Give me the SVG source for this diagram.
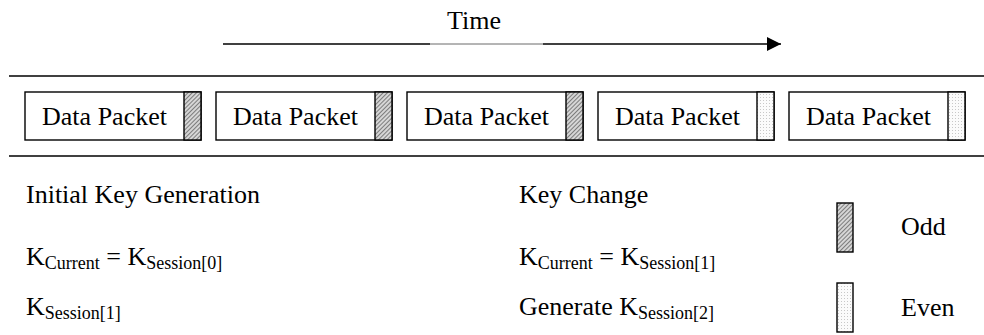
<svg xmlns="http://www.w3.org/2000/svg" width="984" height="335" viewBox="0 0 984 335" font-family="'Liberation Serif', 'DejaVu Serif', serif" font-size="26">
  <style>
    text { font-family: "Liberation Serif", "DejaVu Serif", serif; font-size: 26px; fill: #000; }
    .sub { font-size: 18px; }
    .rule { stroke: #000; stroke-width: 1.6; fill: none; }
    .box { fill: #fff; stroke: #000; stroke-width: 1.4; }
    .odd { fill: url(#hatch); stroke: #000; stroke-width: 1.4; }
    .even { fill: url(#dots); stroke: #000; stroke-width: 1.4; }
    .pkt { text-anchor: middle; }
  </style>
  <defs>
    <pattern id="hatch" patternUnits="userSpaceOnUse" width="3" height="3" patternTransform="rotate(45)">
      <rect width="3" height="3" fill="#d6d6d6"/>
      <line x1="0" y1="0" x2="0" y2="3" stroke="#555" stroke-width="1.4"/>
    </pattern>
    <pattern id="dots" patternUnits="userSpaceOnUse" width="3" height="3">
      <rect width="3" height="3" fill="#fbfbfb"/>
      <rect x="1" y="1" width="1" height="1" fill="#c8c8c8"/>
    </pattern>
    <marker id="arrow" markerWidth="14" markerHeight="14" refX="14" refY="7" orient="auto" markerUnits="userSpaceOnUse">
      <path d="M0,0 L14,7 L0,14 Z" fill="#000"/>
    </marker>
  </defs>

  <!-- time axis -->
  <g id="time-axis">
    <text x="474" y="29" text-anchor="middle">Time</text>
  </g>
  <g id="connectors">
    <line x1="223" y1="44" x2="430" y2="44" class="rule"/>
    <line x1="430" y1="44" x2="543" y2="44" stroke="#444" stroke-width="0.8"/>
    <line x1="543" y1="44" x2="781" y2="44" class="rule" marker-end="url(#arrow)"/>
  </g>

  <!-- channel boundaries -->
  <line x1="9" y1="76" x2="984" y2="76" class="rule"/>
  <line x1="9" y1="156" x2="984" y2="156" class="rule"/>

  <!-- packets: three odd-key, two even-key -->
  <g id="packet1">
    <rect x="25" y="92" width="176" height="48" class="box"/>
    <rect x="184" y="92" width="17" height="48" class="odd"/>
    <text x="104.5" y="125" class="pkt">Data Packet</text>
  </g>
  <g id="packet2">
    <rect x="216" y="92" width="176" height="48" class="box"/>
    <rect x="375" y="92" width="17" height="48" class="odd"/>
    <text x="295.5" y="125" class="pkt">Data Packet</text>
  </g>
  <g id="packet3">
    <rect x="407" y="92" width="176" height="48" class="box"/>
    <rect x="566" y="92" width="17" height="48" class="odd"/>
    <text x="486.5" y="125" class="pkt">Data Packet</text>
  </g>
  <g id="packet4">
    <rect x="598" y="92" width="176" height="48" class="box"/>
    <rect x="757" y="92" width="17" height="48" class="even"/>
    <text x="677.5" y="125" class="pkt">Data Packet</text>
  </g>
  <g id="packet5">
    <rect x="789" y="92" width="176" height="48" class="box"/>
    <rect x="948" y="92" width="17" height="48" class="even"/>
    <text x="868.5" y="125" class="pkt">Data Packet</text>
  </g>

  <!-- key generation notes -->
  <g id="initial-key">
    <text x="26" y="203">Initial Key Generation</text>
    <text x="26" y="265">K<tspan class="sub" dy="4">Current</tspan><tspan dy="-4"> = K</tspan><tspan class="sub" dy="4">Session[0]</tspan></text>
    <text x="26" y="315">K<tspan class="sub" dy="4">Session[1]</tspan></text>
  </g>
  <g id="key-change">
    <text x="519" y="203">Key Change</text>
    <text x="519" y="265">K<tspan class="sub" dy="4">Current</tspan><tspan dy="-4"> = K</tspan><tspan class="sub" dy="4">Session[1]</tspan></text>
    <text x="519" y="315">Generate K<tspan class="sub" dy="4">Session[2]</tspan></text>
  </g>

  <!-- legend -->
  <g id="legend-odd">
    <rect x="837" y="203" width="16" height="49" class="odd"/>
    <text x="901" y="235">Odd</text>
  </g>
  <g id="legend-even">
    <rect x="837" y="283" width="16" height="49" class="even"/>
    <text x="901" y="316">Even</text>
  </g>
</svg>
